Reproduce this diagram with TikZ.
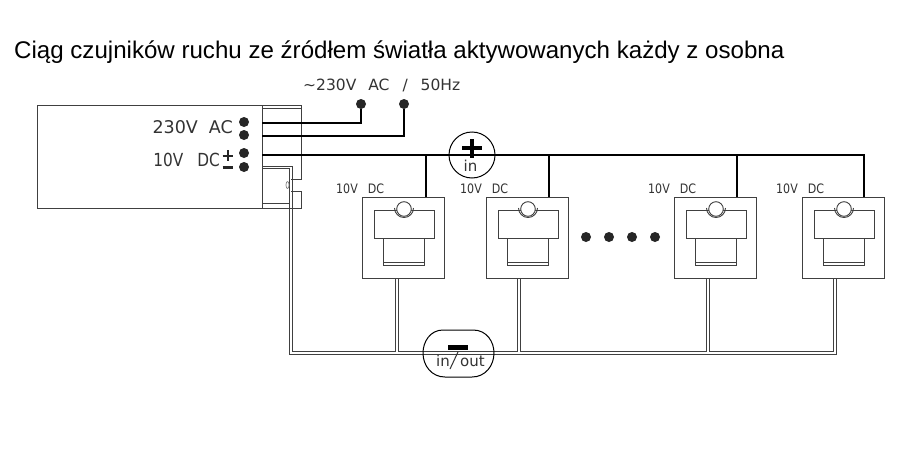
\documentclass[tikz,border=0pt]{standalone}
\usepackage{fontspec}
\setmainfont{Liberation Sans}
\newfontfamily\cadfont{DejaVu Sans}
\newfontfamily\cadcond[FakeStretch=0.85]{DejaVu Sans}
\tikzset{x=1pt,y=-1pt,
 thin line/.style={draw=black!75,line width=0.9pt},
 bus/.style={draw=black,line width=2pt},
 dot/.style={circle,fill=black!85,inner sep=0pt,minimum size=10pt},
 cad/.style={inner sep=0pt,font=\cadcond\fontsize{13}{15}\selectfont,text=black!80},
 cadmid/.style={inner sep=0pt,font=\cadfont\fontsize{15}{17}\selectfont,text=black!80},
 cadbig/.style={inner sep=0pt,font=\cadfont\fontsize{17.5}{20}\selectfont,text=black!80}}
\newcommand{\sensorbox}[3]{%
 \node[thin line,minimum width=82pt,minimum height=81pt,inner sep=0pt,anchor=north west] (#1) at (#2,197) {};
 \draw[thin line] (#2+12,210) rectangle (#2+72,238);
 \draw[thin line] (#2+21,238) rectangle (#2+62,265);
 \draw[thin line] (#2+21,262) -- (#2+62,262);
 \draw[thin line] (#2+32.5,208) arc[start angle=180,end angle=0,radius=9.5];
 \draw[thin line,fill=white] (#2+42,209) circle[radius=7.3];
 \node[cad,anchor=west] at (#2-26,#3) {10V\hspace*{10pt}DC};
}
\begin{document}
\begin{tikzpicture}
\useasboundingbox (0,0) rectangle (900,458);
\fill[white] (0,0) rectangle (900,458);
\node[anchor=base west,inner sep=0pt,font=\fontsize{24.1}{28}\selectfont] (title) at (14,58) {Ciąg czujników ruchu ze źródłem światła aktywowanych każdy z osobna};
% power supply
\draw[thin line] (262,105) -- (37,105) -- (37,208) -- (301,208) -- (301,191) -- (291,191);
\draw[thin line] (262,105) -- (301,105) -- (301,179) -- (291,179);
\draw[thin line] (262,105) -- (262,208);
\draw[thin line] (262,108.5) -- (301,108.5);
\draw[thin line] (262,203) -- (289,203);
\node[cadbig,anchor=east] (ac) at (233,127) {230V\hspace*{11pt}AC};
\node[cadbig,anchor=east,font=\cadcond\fontsize{18}{20}\selectfont] (dc) at (220,160) {10V\hspace*{14pt}DC};
\draw[black!85,line width=2pt] (222.5,156) -- (233,156) (227.7,150) -- (227.7,161);
\draw[black!85,line width=2.6pt] (222.5,167.7) -- (233,167.7);
\node[dot] (t1) at (244,122) {};
\node[dot] (t2) at (244,135) {};
\node[dot] (t3) at (244,153) {};
\node[dot] (t4) at (244,167) {};
\node[dot] (n1) at (361,104) {};
\node[dot] (n2) at (404,104) {};
\draw[black,line width=1.6pt] (262,123) -| (n1);
\draw[black,line width=2.6pt] (262,136) -| (n2);
\node[cadmid,anchor=west,font=\cadfont\fontsize{15.5}{17}\selectfont] (mains) at (303,85) {\textasciitilde230V\hspace*{12pt}AC\hspace*{13pt}/\hspace*{13pt}50Hz};
% sensors
\sensorbox{s1}{362}{189}
\sensorbox{s2}{486}{189}
\sensorbox{s3}{674}{189}
\sensorbox{s4}{802}{189}
% + bus
\draw[bus] (262,154.7) -- (864,154.7) -- (864,197);
\draw[bus] (426,154.7) -- (426,197);
\draw[bus] (549,154.7) -- (549,197);
\draw[bus] (737,154.7) -- (737,197);
\node[circle,draw=black,line width=1pt,minimum size=46pt,inner sep=0pt] (inp) at (472,155) {};
\draw[black,line width=3.5pt] (462,148) -- (482,148) (472,139) -- (472,158);
\node[cadmid] (intxt) at (470.5,166) {in};
% - wires
\draw[thin line] (262,166) -- (292,166) -- (292,351) -- (395,351) -- (395,278);
\draw[thin line] (262,168.5) -- (289,168.5) -- (289,354) -- (836,354) -- (836,278);
\draw[thin line] (398,278) -- (398,351) -- (517,351) -- (517,278);
\draw[thin line] (520,278) -- (520,351) -- (706,351) -- (706,278);
\draw[thin line] (709,278) -- (709,351) -- (833,351) -- (833,278);
\draw[draw=black!50,line width=0.7pt] (287.5,185) ellipse[x radius=1.5,y radius=3.5];
% minus connector
\draw[black,line width=1pt] (443,330) .. controls (430,330) and (423,342) .. (423,353) .. controls (423,366) and (432,377) .. (445,377) -- (472,377) .. controls (485,377) and (494,366) .. (494,353) .. controls (494,342) and (487,330) .. (473,330) -- cycle;
\fill[black] (448,345) rectangle (468,350);
\node[cadmid,anchor=west] (outa) at (436,361) {in};
\node[cadmid,anchor=west] (outb) at (460,361) {out};
\draw[black!80,line width=1pt] (450,369) -- (458,352);
% ellipsis dots
\node[dot] (e1) at (586,237) {};
\node[dot] (e2) at (609,237) {};
\node[dot] (e3) at (632,237) {};
\node[dot] (e4) at (655,237) {};
\end{tikzpicture}
\end{document}
